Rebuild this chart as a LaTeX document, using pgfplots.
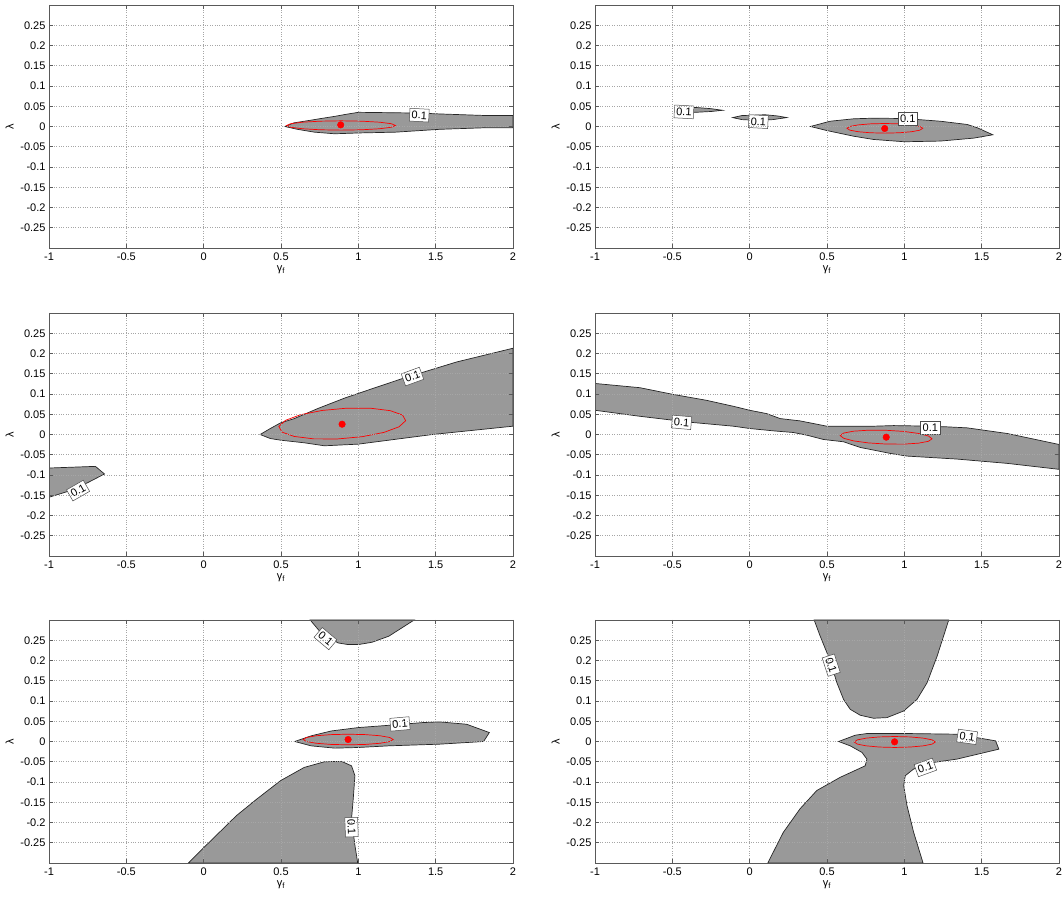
\documentclass[border=0pt]{standalone}
\usepackage{fontspec}
\setmainfont{Liberation Sans}
\usepackage{pgfplots}
\pgfplotsset{compat=1.18}
\pgfplotsset{
  panel/.style={
    scale only axis, width=464pt, height=243pt, anchor=south west,
    xmin=-1, xmax=2, ymin=-0.3, ymax=0.3,
    xtick={-1,-0.5,0,0.5,1,1.5,2},
    xticklabels={-1,-0.5,0,0.5,1,1.5,2},
    ytick={-0.25,-0.2,-0.15,-0.1,-0.05,0,0.05,0.1,0.15,0.2,0.25},
    yticklabels={-0.25,-0.2,-0.15,-0.1,-0.05,0,0.05,0.1,0.15,0.2,0.25},
    grid=major, grid style={dotted, black!35, line width=0.6pt},
    axis line style={black!65, line width=0.7pt},
    tick style={black!65, line width=0.6pt},
    tick align=inside, major tick length=4pt,
    axis on top,
    tick label style={font=\fontsize{11}{13}\selectfont},
    xticklabel style={yshift=-1pt},
    label style={font=\fontsize{11}{13}\selectfont},
    xlabel={γ\textsubscript{f}}, ylabel={λ},
    xlabel style={yshift=1pt},
  },
  reg/.style={fill=black!40, draw=black!85, line width=0.7pt},
  ell/.style={red, line width=0.7pt},
  dot/.style={only marks, mark=*, mark size=3.3pt, red, mark options={fill=red}},
}
\tikzset{lab/.style={draw=black!70, fill=white, inner xsep=2pt, inner ysep=2.5pt, line width=0.5pt, font=\fontsize{11}{13}\selectfont}}
\begin{document}
\begin{tikzpicture}[x=1pt,y=1pt]
\useasboundingbox (0,0) rectangle (1062,899);

% ---------- panel 1 (top left)
\begin{axis}[panel, at={(49pt,651pt)}]
\addplot[reg] coordinates {(0.525,0) (0.584,0.009) (0.70,0.016) (0.759,0.0197) (0.847,0.025) (0.92,0.030) (1.0,0.035) (1.219,0.034) (1.40,0.033) (1.525,0.031) (1.83,0.027) (2.0,0.027) (2.0,-0.003) (1.83,-0.003) (1.525,-0.007) (1.24,-0.014) (1.0,-0.016) (0.847,-0.018) (0.716,-0.014) (0.606,-0.007)} --cycle;
\addplot[ell] coordinates {(1.240,0.0025) (1.213,0.0069) (1.137,0.0106) (1.023,0.0131) (0.888,0.0140) (0.753,0.0131) (0.639,0.0106) (0.563,0.0069) (0.536,0.0025) (0.563,-0.0019) (0.639,-0.0056) (0.753,-0.0081) (0.888,-0.0090) (1.023,-0.0081) (1.137,-0.0056) (1.213,-0.0019)} --cycle;
\addplot[dot] coordinates {(0.886,0.004)};
\node[lab, rotate=-3] at (axis cs:1.394,0.028) {0.1};
\end{axis}

% ---------- panel 2 (top right)
\begin{axis}[panel, at={(595pt,651pt)}]
\addplot[reg] coordinates {(-0.46,0.046) (-0.35,0.047) (-0.25,0.044) (-0.175,0.040) (-0.25,0.037) (-0.35,0.035) (-0.46,0.036)} --cycle;
\addplot[reg] coordinates {(-0.11,0.022) (-0.05,0.027) (0.1,0.029) (0.18,0.026) (0.24,0.022) (0.15,0.017) (0.05,0.015) (-0.05,0.017)} --cycle;
\addplot[reg] coordinates {(0.393,0) (0.52,0.013) (0.672,0.019) (0.80,0.0205) (1.0,0.0197) (1.233,0.013) (1.406,0.005) (1.471,-0.003) (1.572,-0.0205) (1.449,-0.0287) (1.233,-0.036) (1.0,-0.0377) (0.80,-0.032) (0.672,-0.024) (0.499,-0.01)} --cycle;
\addplot[ell] coordinates {(1.119,-0.0045) (1.100,0.0001) (1.047,0.0039) (0.968,0.0065) (0.874,0.0074) (0.780,0.0065) (0.701,0.0039) (0.648,0.0001) (0.629,-0.0045) (0.648,-0.0091) (0.701,-0.0129) (0.780,-0.0155) (0.874,-0.0164) (0.968,-0.0155) (1.047,-0.0129) (1.100,-0.0091)} --cycle;
\addplot[dot] coordinates {(0.873,-0.005)};
\node[lab, rotate=-3] at (axis cs:-0.425,0.036) {0.1};
\node[lab, rotate=-3] at (axis cs:0.056,0.012) {0.1};
\node[lab] at (axis cs:1.022,0.0197) {0.1};
\end{axis}

% ---------- panel 3 (middle left)
\begin{axis}[panel, at={(49pt,343pt)}]
\addplot[reg] coordinates {(0.365,0) (0.431,0.0148) (0.497,0.0287) (0.584,0.039) (0.737,0.064) (0.912,0.090) (1.109,0.1156) (1.284,0.138) (1.438,0.156) (1.635,0.179) (2.0,0.213) (2.0,0.0205) (1.48,0) (1.0,-0.0238) (0.781,-0.0279) (0.65,-0.0205) (0.497,-0.014) (0.431,-0.01)} --cycle;
\addplot[reg] coordinates {(-1,-0.0828) (-0.70,-0.0787) (-0.641,-0.0975) (-0.75,-0.119) (-0.882,-0.141) (-1,-0.155)} --cycle;
\addplot[ell] coordinates {(1.286,0.048) (1.207,0.0588) (1.0805,0.0648) (0.926,0.0650) (0.767,0.0594) (0.627,0.0489) (0.529,0.035) (0.486,0.020) (0.506,0.006) (0.585,-0.0048) (0.7115,-0.0108) (0.866,-0.011) (1.025,-0.0054) (1.165,0.0051) (1.263,0.019) (1.306,0.034)} --cycle;
\addplot[dot] coordinates {(0.895,0.0254)};
\node[lab, rotate=20] at (axis cs:1.35,0.143) {0.1};
\node[lab, rotate=30] at (axis cs:-0.812,-0.1385) {0.1};
\end{axis}

% ---------- panel 4 (middle right)
\begin{axis}[panel, at={(595pt,343pt)}]
\addplot[reg] coordinates {(-1,0.126) (-0.711,0.1156) (-0.495,0.099) (-0.279,0.0844) (-0.106,0.0697) (0,0.0598) (0.110,0.0516) (0.197,0.0393) (0.326,0.0336) (0.413,0.027) (0.499,0.0205) (0.801,0.0205) (0.931,0.022) (1.1,0.021) (1.276,0.0189) (1.406,0.0164) (1.665,0.0025) (2.0,-0.0246) (2,-0.086) (1.665,-0.0713) (1.341,-0.0607) (1.017,-0.0533) (0.909,-0.0467) (0.715,-0.032) (0.607,-0.018) (0.477,-0.0123) (0.369,-0.0016) (0.283,0.0049) (0.153,0.009) (0,0.0148) (-0.106,0.0205) (-0.387,0.0303) (-0.711,0.045) (-1,0.0598)} --cycle;
\addplot[ell] coordinates {(1.179,-0.0106) (1.156,-0.0038) (1.092,0.0026) (0.996,0.0076) (0.882,0.0104) (0.768,0.0106) (0.672,0.0082) (0.608,0.0036) (0.585,-0.0026) (0.608,-0.0094) (0.672,-0.0158) (0.768,-0.0208) (0.882,-0.0236) (0.996,-0.0238) (1.092,-0.0214) (1.156,-0.0168)} --cycle;
\addplot[dot] coordinates {(0.883,-0.0066)};
\node[lab, rotate=-5] at (axis cs:-0.44,0.030) {0.1};
\node[lab] at (axis cs:1.168,0.0164) {0.1};
\end{axis}

% ---------- panel 5 (bottom left)
\begin{axis}[panel, at={(49pt,36pt)}]
\addplot[reg] coordinates {(0.689,0.3) (0.759,0.268) (0.869,0.2434) (0.934,0.2393) (1.0,0.2393) (1.088,0.245) (1.197,0.26) (1.361,0.3)} --cycle;
\addplot[reg] coordinates {(0.589,0) (0.694,0.0139) (0.825,0.026) (1.0,0.0344) (1.197,0.040) (1.416,0.0467) (1.525,0.0484) (1.70,0.0426) (1.847,0.0221) (1.81,0) (1.525,-0.0066) (1.197,-0.0107) (1.0,-0.0148) (0.847,-0.0164) (0.694,-0.0107)} --cycle;
\addplot[reg] coordinates {(-0.0985,-0.3) (-0.0066,-0.2648) (0.212,-0.183) (0.344,-0.142) (0.497,-0.0967) (0.650,-0.064) (0.781,-0.050) (0.891,-0.049) (0.956,-0.060) (0.978,-0.0844) (0.967,-0.142) (0.956,-0.191) (0.978,-0.2566) (0.996,-0.3)} --cycle;
\addplot[ell] coordinates {(1.225,0.0049) (1.203,0.0099) (1.140,0.0142) (1.046,0.0170) (0.934,0.0180) (0.823,0.0170) (0.728,0.0142) (0.665,0.0099) (0.643,0.0049) (0.665,-0.0001) (0.728,-0.0044) (0.823,-0.0072) (0.934,-0.0082) (1.046,-0.0072) (1.140,-0.0044) (1.203,-0.0001)} --cycle;
\addplot[dot] coordinates {(0.934,0.0049)};
\node[lab, rotate=-40] at (axis cs:0.788,0.254) {0.1};
\node[lab, rotate=5] at (axis cs:1.269,0.0434) {0.1};
\node[lab, rotate=-88] at (axis cs:0.956,-0.2115) {0.1};
\end{axis}

% ---------- panel 6 (bottom right)
\begin{axis}[panel, at={(595pt,36pt)}]
\addplot[reg] coordinates {(0.417,0.3) (0.456,0.26) (0.52,0.20) (0.564,0.145) (0.607,0.104) (0.65,0.0795) (0.715,0.0648) (0.801,0.0574) (0.888,0.059) (0.996,0.0754) (1.082,0.104) (1.147,0.145) (1.212,0.2107) (1.287,0.3)} --cycle;
\addplot[reg] coordinates {(0.575,0) (0.683,0.0156) (0.758,0.0197) (1.017,0.0197) (1.341,0.018) (1.59,0.0016) (1.611,-0.0189) (1.341,-0.0434) (1.19,-0.0516) (1.06,-0.068) (1.006,-0.0844) (0.996,-0.109) (1.017,-0.158) (1.06,-0.224) (1.121,-0.3) (0.117,-0.3) (0.218,-0.224) (0.326,-0.166) (0.434,-0.121) (0.585,-0.0885) (0.747,-0.060) (0.758,-0.0434) (0.726,-0.027) (0.65,-0.0107)} --cycle;
\addplot[ell] coordinates {(1.200,-0.0012) (1.180,0.0040) (1.123,0.0083) (1.038,0.0113) (0.938,0.0123) (0.838,0.0113) (0.753,0.0083) (0.696,0.0040) (0.676,-0.0012) (0.696,-0.0064) (0.753,-0.0107) (0.838,-0.0137) (0.938,-0.0147) (1.038,-0.0137) (1.123,-0.0107) (1.180,-0.0064)} --cycle;
\addplot[dot] coordinates {(0.937,-0.0008)};
\node[lab, rotate=-72] at (axis cs:0.527,0.1885) {0.1};
\node[lab, rotate=-8] at (axis cs:1.406,0.0115) {0.1};
\node[lab, rotate=20] at (axis cs:1.136,-0.064) {0.1};
\end{axis}
\end{tikzpicture}
\end{document}
